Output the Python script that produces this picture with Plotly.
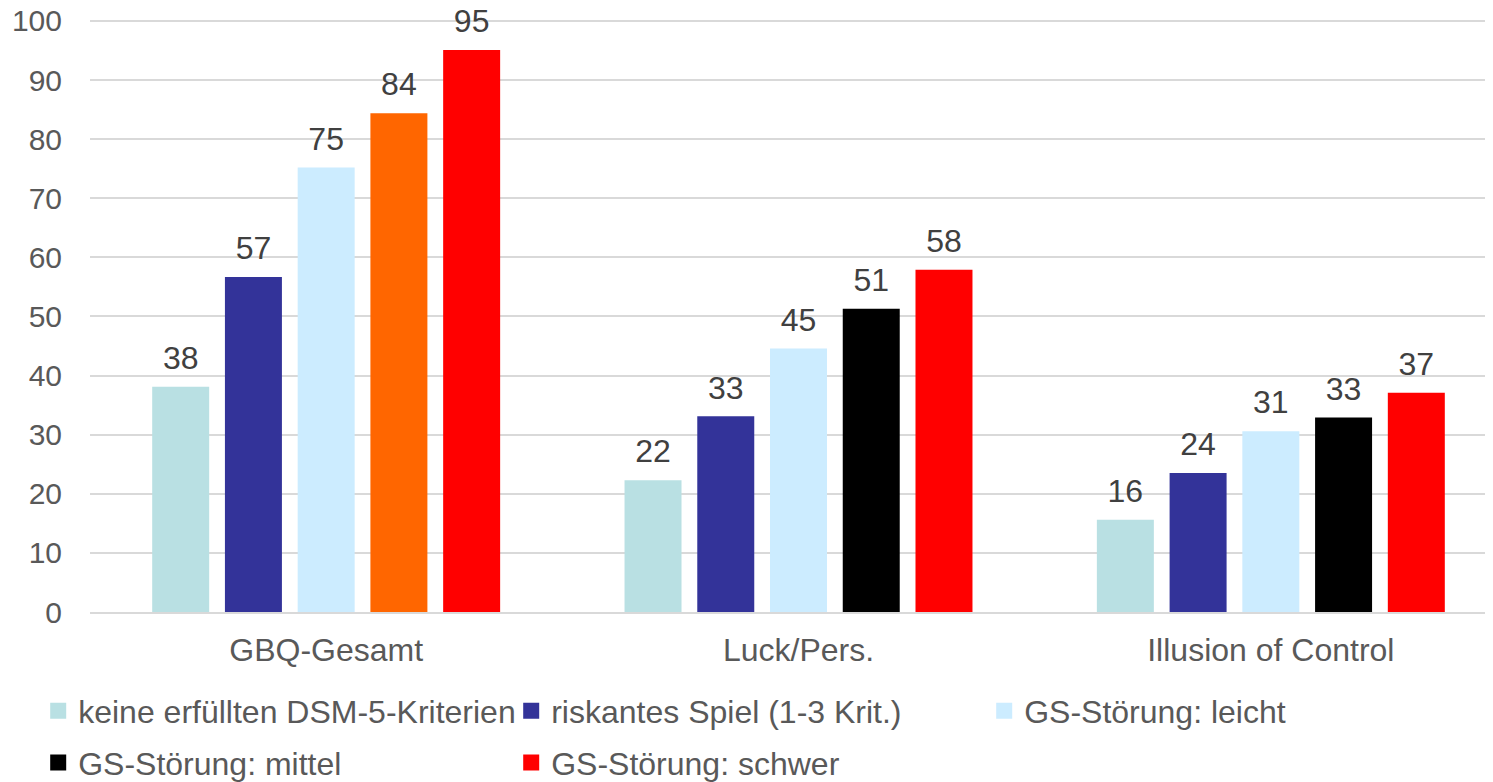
import plotly.graph_objects as go

categories = ["GBQ-Gesamt", "Luck/Pers.", "Illusion of Control"]

series_names = [
    "keine erfüllten DSM-5-Kriterien",
    "riskantes Spiel (1-3 Krit.)",
    "GS-Störung: leicht",
    "GS-Störung: mittel",
    "GS-Störung: schwer",
]

keine = [38.1, 22.3, 15.6]
riskant = [56.7, 33.1, 23.5]
leicht = [75.2, 44.6, 30.6]
mittel = [84.4, 51.3, 32.9]
schwer = [95.1, 57.9, 37.1]

values = [keine, riskant, leicht, mittel, schwer]

colors = ["#B9E0E3", "#333399", "#CCECFF", "#000000", "#FF0000"]
# in the first group the "mittel" bar is drawn orange
mittel_point_colors = ["#FF6600", "#000000", "#000000"]

FONT = "Liberation Sans, Arial, sans-serif"

fig = go.Figure()
for i, (name, vals) in enumerate(zip(series_names, values)):
    col = mittel_point_colors if i == 3 else colors[i]
    fig.add_trace(go.Bar(
        x=categories, y=vals, name=name, offsetgroup=str(i),
        marker=dict(color=col, line=dict(width=0)),
        showlegend=False,
    ))
    # value labels, lifted a bit above the bars
    fig.add_trace(go.Scatter(
        x=categories, y=vals, offsetgroup=str(i), mode="markers+text",
        text=[f"{v:.0f}" for v in vals], textposition="top center",
        textfont=dict(size=32, color="#404040", family=FONT),
        marker=dict(size=14, opacity=0), showlegend=False, cliponaxis=False,
        hoverinfo="skip",
    ))
    # legend entry with square swatch
    fig.add_trace(go.Scatter(
        x=[None], y=[None], name=name, offsetgroup=str(i), mode="markers",
        marker=dict(symbol="square", size=16, color=colors[i]),
        legend="legend" if i < 3 else "legend2",
    ))

leg = dict(
    orientation="h", xanchor="left", x=-0.037, yanchor="bottom",
    entrywidth=428, entrywidthmode="pixels",
    font=dict(size=32, color="#595959", family=FONT),
    itemclick=False, bgcolor="rgba(0,0,0,0)",
)

# page body has an 8px margin, so the figure is drawn 8px smaller
fig.update_layout(
    width=1485, height=774,
    paper_bgcolor="white", plot_bgcolor="white",
    font=dict(family=FONT, size=32, color="#595959"),
    margin=dict(l=82, r=3, t=10, b=170, autoexpand=False),
    barmode="group", bargap=0.23, bargroupgap=0.2165,
    scattermode="group", scattergap=0.23,
    showlegend=True,
    legend=dict(leg, y=-0.213),
    legend2=dict(leg, y=-0.300),
)
fig.update_yaxes(
    range=[0, 100.5], tickmode="array", tickvals=list(range(0, 101, 10)),
    showgrid=True, gridcolor="#D9D9D9", gridwidth=1.5,
    zeroline=False, showline=False, ticks="", tickfont=dict(size=30, color="#595959"),
    ticklabelstandoff=27, ticklabeloverflow="allow", automargin=False,
)
# the chart area runs past the right edge in the original, so the last
# category sits a little to the right of where an even split would put it
fig.update_xaxes(
    range=[-0.5, 2.464],
    showline=True, linecolor="#D9D9D9", linewidth=1.5, ticks="",
    tickfont=dict(size=32, color="#595959"), ticklabelstandoff=9, automargin=False,
)

fig.write_html("out.html")
